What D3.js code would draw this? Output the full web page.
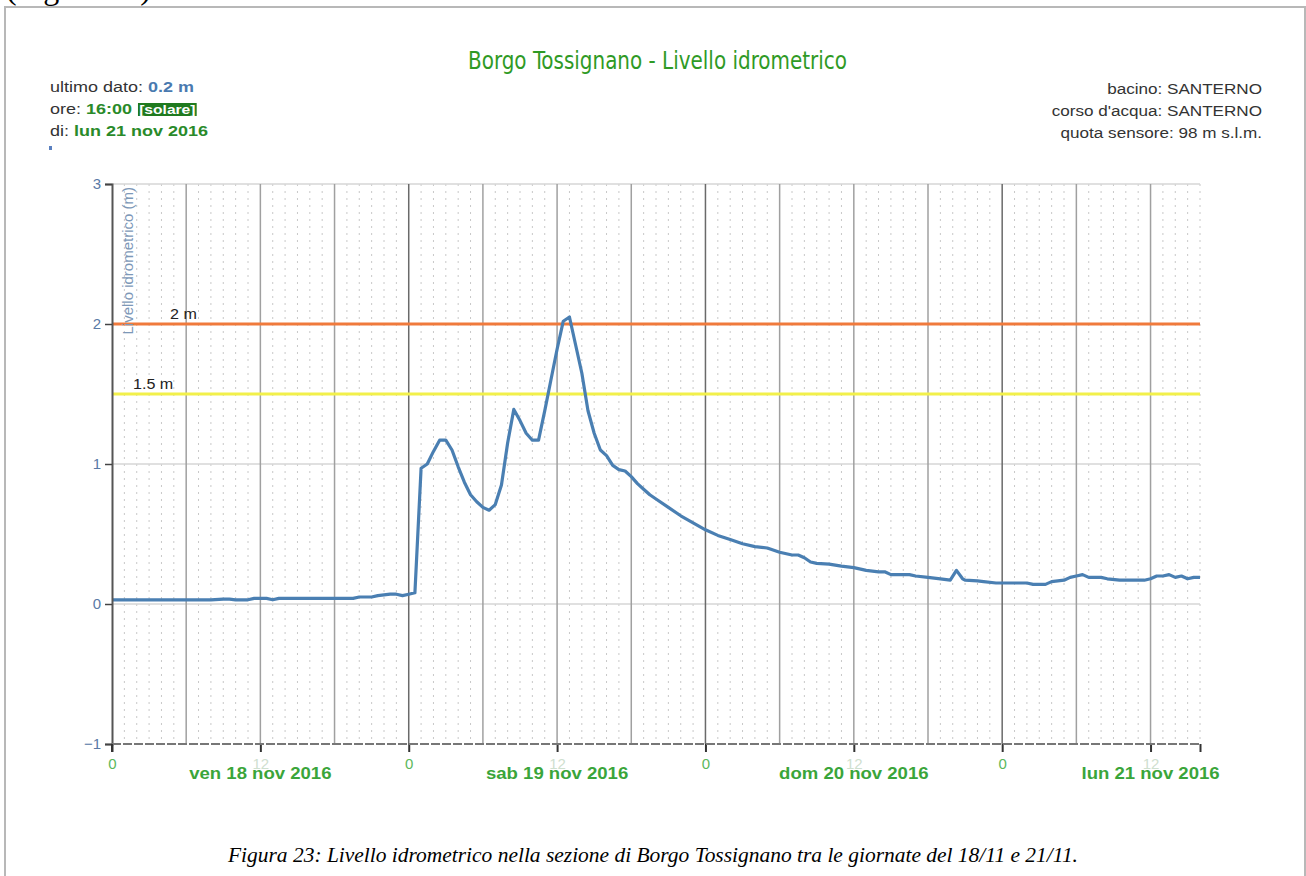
<!DOCTYPE html>
<html>
<head>
<meta charset="utf-8">
<script src="https://cdn.jsdelivr.net/npm/d3@7"></script>
<style>
  body { margin: 0; background: #fff; }
  svg { display: block; }
</style>
</head>
<body>
<div id="chart"></div>
<script>
// livello idrometrico Borgo Tossignano, dal 18/11/2016 00:00
var inizio = new Date(2016, 10, 18, 0, 0);
var fine = new Date(2016, 10, 21, 16, 0);

// ore trascorse dall'inizio (letture)
var ore = [0, 2, 4, 6, 8, 9, 9.5, 10, 11, 11.5, 12.5, 13, 13.5, 16, 19.5, 20, 21, 21.5, 22.5, 23, 23.5, 24, 24.5,
  25, 25.5, 26, 26.5, 27, 27.5, 28, 28.5, 29, 29.5, 30, 30.5, 31, 31.5, 32, 32.5, 33, 33.5, 34, 34.5,
  35, 35.5, 36, 36.5, 37, 37.5, 38, 38.5, 39, 39.5, 40, 40.5, 41, 41.5, 42, 42.5, 43, 43.5, 44, 45,
  46, 47, 48, 49, 50, 51, 52, 53, 54, 55, 55.5, 56, 56.5, 57, 58, 59, 60, 61, 62, 62.5, 63, 64.5,
  65, 66, 67, 67.8, 68.3, 68.8, 69, 70, 70.5, 71.5, 72, 74, 74.5, 75.5, 76, 77, 77.5, 78, 78.5,
  79, 80, 80.5, 81.5, 83.5, 84, 84.5, 85, 85.5, 86, 86.5, 87, 87.5, 88];
// livello (m)
var livello = [0.03, 0.03, 0.03, 0.03, 0.03, 0.035, 0.035, 0.03, 0.03, 0.04, 0.04, 0.03, 0.04, 0.04, 0.04, 0.05, 0.05, 0.06, 0.07, 0.07, 0.06, 0.07, 0.08,
  0.97, 1.0, 1.09, 1.17, 1.17, 1.1, 0.98, 0.87, 0.78, 0.73, 0.69, 0.67, 0.71, 0.85, 1.15, 1.39, 1.31, 1.22, 1.17, 1.17,
  1.38, 1.6, 1.82, 2.02, 2.05, 1.85, 1.65, 1.38, 1.22, 1.1, 1.06, 0.99, 0.96, 0.95, 0.91, 0.86, 0.82, 0.78, 0.75, 0.69,
  0.63, 0.58, 0.53, 0.49, 0.46, 0.43, 0.41, 0.40, 0.37, 0.35, 0.35, 0.33, 0.30, 0.29, 0.285, 0.27, 0.26, 0.24, 0.23, 0.23, 0.21, 0.21,
  0.2, 0.19, 0.18, 0.17, 0.24, 0.18, 0.17, 0.165, 0.16, 0.15, 0.15, 0.15, 0.14, 0.14, 0.16, 0.17, 0.19, 0.2, 0.21,
  0.19, 0.19, 0.18, 0.17, 0.17, 0.18, 0.2, 0.2, 0.21, 0.19, 0.2, 0.18, 0.19, 0.19];

var yTicks = [-1, 0, 1, 2, 3];
var soglie = [2, 1.5];
var soglieLabel = ["2 m", "1.5 m"];
var soglieColori = ["#f07a3c", "#f2f04a"];
var giorni = ["ven 18 nov 2016", "sab 19 nov 2016", "dom 20 nov 2016", "lun 21 nov 2016"];
var destra = ["bacino: SANTERNO", "corso d'acqua: SANTERNO", "quota sensore: 98 m s.l.m."];

var W = 1306, H = 876;
var font = "'Liberation Sans', Arial, sans-serif";
var svg = d3.select("#chart").append("svg")
  .attr("width", W)
  .attr("height", H);

// cornice della figura (il testo sopra e' tagliato come nell'originale)
svg.append("rect")
  .attr("x", 5).attr("y", 7)
  .attr("width", 1300).attr("height", 880)
  .attr("fill", "#fff")
  .attr("stroke", "#b8b8b8")
  .attr("stroke-width", 2);
svg.append("text")
  .attr("x", 6).attr("y", -1)
  .style("font-family", "'Liberation Serif', serif")
  .style("font-size", "32px")
  .text("(Figura 22)");
svg.append("line")
  .attr("x1", 4).attr("x2", 1306).attr("y1", 7).attr("y2", 7)
  .attr("stroke", "#b8b8b8").attr("stroke-width", 2);

var x = d3.scaleTime().domain([inizio, fine]).range([112, 1200]);
var y = d3.scaleLinear().domain([-1, 3]).range([744, 184]);

var dati = ore.map(function(h, i) {
  return { t: d3.timeMinute.offset(inizio, Math.round(h * 60)), v: livello[i] };
});

// griglia
var grid = svg.append("g");
var orari = d3.timeHour.range(inizio, d3.timeHour.offset(fine, 1));
grid.selectAll("line.ora")
  .data(orari.filter(function(d) { return d.getHours() % 6 !== 0; }))
  .enter().append("line")
  .attr("x1", function(d) { return x(d); })
  .attr("x2", function(d) { return x(d); })
  .attr("y1", y(3)).attr("y2", y(-1))
  .attr("stroke", "#c8c8c8")
  .attr("stroke-width", 1)
  .attr("stroke-dasharray", "2,5");

grid.selectAll("line.h")
  .data([0, 1, 2, 3])
  .enter().append("line")
  .attr("x1", x(inizio)).attr("x2", x(fine))
  .attr("y1", function(d) { return y(d); })
  .attr("y2", function(d) { return y(d); })
  .attr("stroke", "#d6d6d6")
  .attr("stroke-width", 1.5);

grid.selectAll("line.sei")
  .data(orari.filter(function(d) { return d.getHours() % 6 === 0 && +d !== +inizio; }))
  .enter().append("line")
  .attr("x1", function(d) { return x(d); })
  .attr("x2", function(d) { return x(d); })
  .attr("y1", y(3)).attr("y2", y(-1))
  .attr("stroke", function(d) { return d.getHours() === 0 ? "#6a6a6a" : "#a0a0a0"; })
  .attr("stroke-width", 1.5);

// soglie
soglie.forEach(function(s, i) {
  svg.append("line")
    .attr("x1", x(inizio)).attr("x2", x(fine))
    .attr("y1", y(s)).attr("y2", y(s))
    .attr("stroke", soglieColori[i])
    .attr("stroke-width", 3);
});
svg.selectAll("text.soglia")
  .data(soglie)
  .enter().append("text")
  .attr("transform", function(d, i) { return "translate(" + (i === 0 ? 170 : 133) + "," + (y(d) - 5) + ") scale(1.15,1)"; })
  .style("font-family", font)
  .style("font-size", "14px")
  .attr("fill", "#222")
  .text(function(d, i) { return soglieLabel[i]; });

// serie
var linea = d3.line()
  .x(function(d) { return x(d.t); })
  .y(function(d) { return y(d.v); });
svg.append("path")
  .datum(dati)
  .attr("d", linea)
  .attr("fill", "none")
  .attr("stroke", "#4a7fb2")
  .attr("stroke-width", 3.2)
  .attr("stroke-linejoin", "round");

// asse y
var yAxis = svg.append("g")
  .attr("transform", "translate(112,0)")
  .call(d3.axisLeft(y).tickValues(yTicks).tickSize(7).tickPadding(4).tickFormat(d3.format("d")));
yAxis.select(".domain").attr("stroke", "#555").attr("stroke-width", 2);
yAxis.selectAll(".tick line").attr("stroke", "#444").attr("stroke-width", 1.5);
yAxis.selectAll(".tick text")
  .attr("fill", "#5a7aa6")
  .style("font-family", font)
  .style("font-size", "15px");

svg.append("text")
  .attr("transform", "translate(133,187) rotate(-90)")
  .attr("text-anchor", "end")
  .attr("fill", "#7d98b8")
  .style("font-family", font)
  .style("font-size", "15px")
  .text("Livello idrometrico (m)");

// asse x
var xAxis = svg.append("g")
  .attr("transform", "translate(0,744)")
  .call(d3.axisBottom(x)
    .tickValues(d3.timeHour.every(12).range(inizio, d3.timeHour.offset(fine, 1)).concat([fine]))
    .tickSize(8).tickPadding(6)
    .tickFormat(function(d) { return +d === +fine ? "" : String(d.getHours()); }));
xAxis.select(".domain").remove();
xAxis.selectAll(".tick line").attr("stroke", "#333").attr("stroke-width", 2);
xAxis.selectAll(".tick text")
  .attr("fill", function(d) { return d.getHours() === 0 ? "#5cb85c" : "#cfe0cf"; })
  .style("font-family", font)
  .style("font-size", "15px");
svg.append("line")
  .attr("x1", x(inizio)).attr("x2", x(fine))
  .attr("y1", 744).attr("y2", 744)
  .attr("stroke", "#777")
  .attr("stroke-width", 2)
  .attr("stroke-dasharray", "9,2");
svg.append("line")
  .attr("x1", 112).attr("x2", 112)
  .attr("y1", 744).attr("y2", 752)
  .attr("stroke", "#333").attr("stroke-width", 2);

svg.selectAll("text.giorno")
  .data(giorni)
  .enter().append("text")
  .attr("transform", function(d, i) {
    return "translate(" + x(d3.timeHour.offset(d3.timeDay.offset(inizio, i), 12)) + ",779) scale(1.16,1)";
  })
  .attr("text-anchor", "middle")
  .attr("fill", "#3aa53a")
  .style("font-family", font)
  .style("font-size", "16px")
  .style("font-weight", "bold")
  .text(function(d) { return d; });

// titolo
svg.append("text")
  .attr("x", 468).attr("y", 69)
  .attr("fill", "#2f9a25")
  .style("font-family", "'DejaVu Sans Condensed', 'Liberation Sans Narrow', sans-serif")
  .style("font-size", "25px")
  .attr("textLength", 379)
  .attr("lengthAdjust", "spacingAndGlyphs")
  .text("Borgo Tossignano - Livello idrometrico");

// informazioni a sinistra
var info = svg.append("g")
  .attr("transform", "translate(50,0) scale(1.2,1)")
  .style("font-family", font).style("font-size", "15px");
var r1 = info.append("text").attr("x", 0).attr("y", 92).attr("fill", "#333");
r1.append("tspan").text("ultimo dato: ");
r1.append("tspan").attr("fill", "#4a7ab0").style("font-weight", "bold").text("0.2 m");
var r2 = info.append("text").attr("x", 0).attr("y", 114).attr("fill", "#333");
r2.append("tspan").text("ore: ");
r2.append("tspan").attr("fill", "#2a8a2a").style("font-weight", "bold").text("16:00");
var xs = r2.node().getComputedTextLength() + 5;
var sol = info.append("text").attr("x", xs + 1).attr("y", 114)
  .attr("fill", "#fff").style("font-weight", "bold").style("font-size", "13px")
  .text("[solare]");
info.insert("rect", "text:last-child")
  .attr("x", xs).attr("y", 103).attr("width", sol.node().getComputedTextLength() + 2).attr("height", 13)
  .attr("fill", "#1f7a1f");
var r3 = info.append("text").attr("x", 0).attr("y", 136).attr("fill", "#333");
r3.append("tspan").text("di: ");
r3.append("tspan").attr("fill", "#2a8a2a").style("font-weight", "bold").text("lun 21 nov 2016");
svg.append("rect")
  .attr("x", 49).attr("y", 146).attr("width", 3).attr("height", 4)
  .attr("fill", "#5a80c0");

// informazioni a destra
var info2 = svg.append("g")
  .attr("transform", "translate(1262,0) scale(1.18,1)");
info2.selectAll("text")
  .data(destra)
  .enter().append("text")
  .attr("x", 0)
  .attr("y", function(d, i) { return 94 + i * 22; })
  .attr("text-anchor", "end")
  .attr("fill", "#333")
  .style("font-family", font)
  .style("font-size", "14.5px")
  .text(function(d) { return d; });

// didascalia
svg.append("text")
  .attr("x", 228).attr("y", 862)
  .attr("fill", "#000")
  .style("font-family", "'Liberation Serif', 'Times New Roman', serif")
  .style("font-style", "italic")
  .style("font-size", "20px")
  .attr("textLength", 850)
  .attr("lengthAdjust", "spacingAndGlyphs")
  .text("Figura 23: Livello idrometrico nella sezione di Borgo Tossignano tra le giornate del 18/11 e 21/11.");
</script>
</body>
</html>
